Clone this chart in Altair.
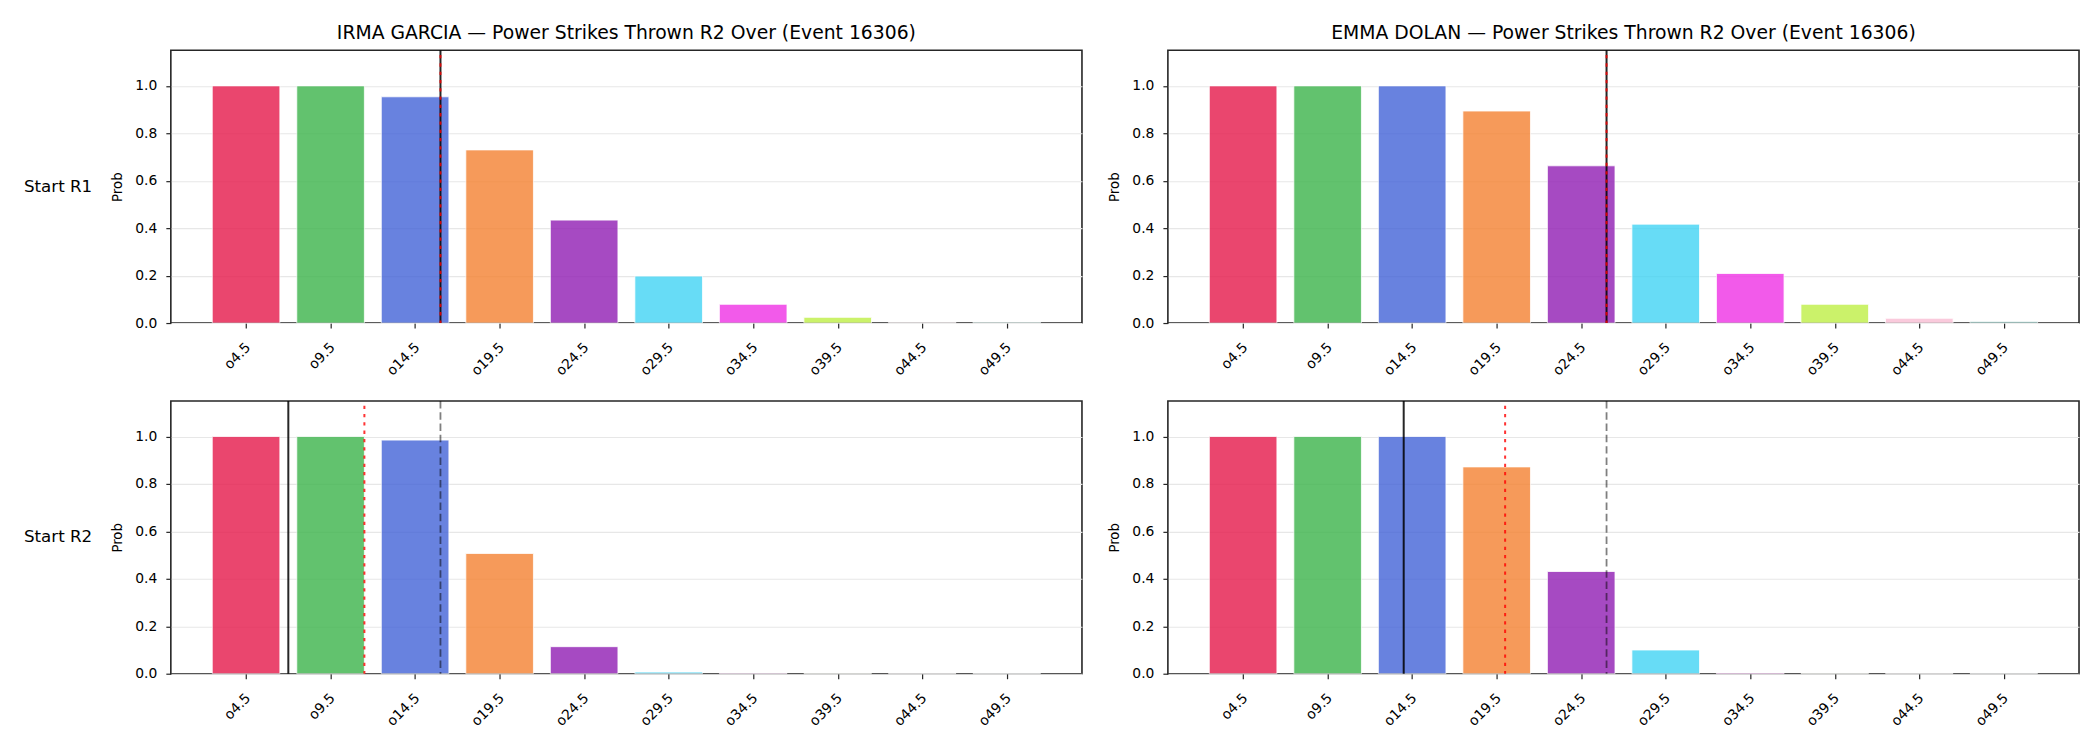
import json

import altair as alt
import pandas as pd

# Over lines for power strikes thrown in round 2
line_labels = ["o4.5", "o9.5", "o14.5", "o19.5", "o24.5",
               "o29.5", "o34.5", "o39.5", "o44.5", "o49.5"]
thresholds = [4.5, 9.5, 14.5, 19.5, 24.5, 29.5, 34.5, 39.5, 44.5, 49.5]
bar_colors = ["#e6194b", "#3cb44b", "#4363d8", "#f58231", "#911eb4",
              "#42d4f4", "#f032e6", "#bfef45", "#fabed4", "#469990"]

# P(over) per line, by fighter and starting round
irma_r1 = [1.0, 1.0, 0.954, 0.730, 0.434, 0.198, 0.079, 0.024, 0.002, 0.003]
irma_r2 = [1.0, 1.0, 0.985, 0.507, 0.114, 0.007, 0.002, 0.001, 0.0005, 0.001]
emma_r1 = [1.0, 1.0, 1.0, 0.894, 0.663, 0.417, 0.209, 0.079, 0.020, 0.005]
emma_r2 = [1.0, 1.0, 1.0, 0.872, 0.431, 0.100, 0.003, 0.001, 0.0005, 0.001]

# Vertical markers in strikes: live line (solid), projection (dotted),
# pre-fight line (dashed)
irma_r1_marks = {"line": 16.0, "proj": 16.0}
irma_r2_marks = {"line": 7.0, "proj": 11.5, "prior": 16.0}
emma_r1_marks = {"line": 26.0, "proj": 26.0}
emma_r2_marks = {"line": 14.0, "proj": 20.0, "prior": 26.0}

title_suffix = " — Power Strikes Thrown R2 Over (Event 16306)"

FONT = "DejaVu Sans"
W, H = 912, 273
step = thresholds[1] - thresholds[0]

xs = alt.Scale(domain=[-0.89, len(line_labels) - 1 + 0.89], nice=False, zero=False)
ys = alt.Scale(domain=[0, 1.15], nice=False, zero=True)

x_axis = alt.Axis(
    values=list(range(len(line_labels))),
    labelExpr=f"{json.dumps(line_labels)}[datum.value]",
    labelAngle=-45, labelAlign="right", labelBaseline="top",
    labelOffset=-3, labelPadding=12, grid=False,
)
y_axis = alt.Axis(
    values=[0, 0.2, 0.4, 0.6, 0.8, 1.0], format=".1f",
    grid=True, gridColor="#e7e7e7", gridWidth=1.1,
    labelPadding=9, titlePadding=10,
)


def X(field):
    return alt.X(field, scale=xs, axis=x_axis, title=None)


def Y(field):
    return alt.Y(field, scale=ys, axis=y_axis, title="Prob")


def panel(probs, marks, title=None, row_label=None):
    df = pd.DataFrame({"idx": list(range(len(line_labels))),
                       "label": line_labels, "prob": probs,
                       "base": [0.0] * len(line_labels)})
    bars = (
        alt.Chart(df)
        .transform_calculate(lo="datum.idx - 0.4", hi="datum.idx + 0.4")
        .mark_bar(opacity=0.8, stroke="white", strokeWidth=0.8)
        .encode(
            x=X("lo:Q"), x2="hi:Q", y=Y("prob:Q"), y2="base:Q",
            color=alt.Color("label:N",
                            scale=alt.Scale(domain=line_labels, range=bar_colors),
                            legend=None),
        )
    )
    mdf = pd.DataFrame({"kind": list(marks.keys()),
                        "strikes": list(marks.values()),
                        "top": [1.13] * len(marks), "base": [0.0] * len(marks)})
    base = alt.Chart(mdf).transform_calculate(
        pos=f"(datum.strikes - {thresholds[0]}) / {step}")

    layers = [bars]
    if "prior" in marks:
        layers.append(
            base.transform_filter("datum.kind == 'prior'")
            .mark_rule(color="#000000", opacity=0.5, strokeWidth=1.8,
                       strokeDash=[7.5, 3.8])
            .encode(x=X("pos:Q"))
        )
    layers.append(
        base.transform_filter("datum.kind == 'line'")
        .mark_rule(color="#000000", opacity=0.85, strokeWidth=2)
        .encode(x=X("pos:Q"))
    )
    layers.append(
        base.transform_filter("datum.kind == 'proj'")
        .mark_rule(color="#ff0000", opacity=0.8, strokeWidth=2,
                   strokeDash=[3.3, 5])
        .encode(x=X("pos:Q"), y=Y("top:Q"), y2="base:Q")
    )
    if row_label:
        layers.append(
            alt.Chart(pd.DataFrame({"t": [row_label]}))
            .mark_text(align="left", baseline="middle", font=FONT,
                       fontSize=16.7, color="#000000")
            .encode(text="t:N", x=alt.value(-147), y=alt.value(H / 2))
        )
    chart = alt.layer(*layers).properties(width=W, height=H)
    if title:
        chart = chart.properties(title=alt.TitleParams(
            text=title, fontSize=18.8, fontWeight="normal", font=FONT,
            color="#000000", anchor="middle", frame="group", offset=7))
    return chart


row1 = alt.hconcat(
    panel(irma_r1, irma_r1_marks, "IRMA GARCIA" + title_suffix, "Start R1"),
    panel(emma_r1, emma_r1_marks, "EMMA DOLAN" + title_suffix),
    spacing=24,
)
row2 = alt.hconcat(
    panel(irma_r2, irma_r2_marks, row_label="Start R2"),
    panel(emma_r2, emma_r2_marks),
    spacing=24,
)

chart = (
    alt.vconcat(row1, row2, spacing=20)
    .properties(padding={"left": 23, "top": 22, "right": 20, "bottom": 5},
                background="white")
    .configure_view(stroke="#262626", strokeWidth=1.6)
    .configure_axis(
        labelFont=FONT, labelFontSize=13.9, labelColor="#000000",
        titleFont=FONT, titleFontSize=13.3, titleFontWeight="normal",
        titleColor="#000000",
        domain=False, tickColor="#262626", tickWidth=1.2, tickSize=5,
    )
)

chart.save("out.html", embed_options={"renderer": "svg", "actions": False})
